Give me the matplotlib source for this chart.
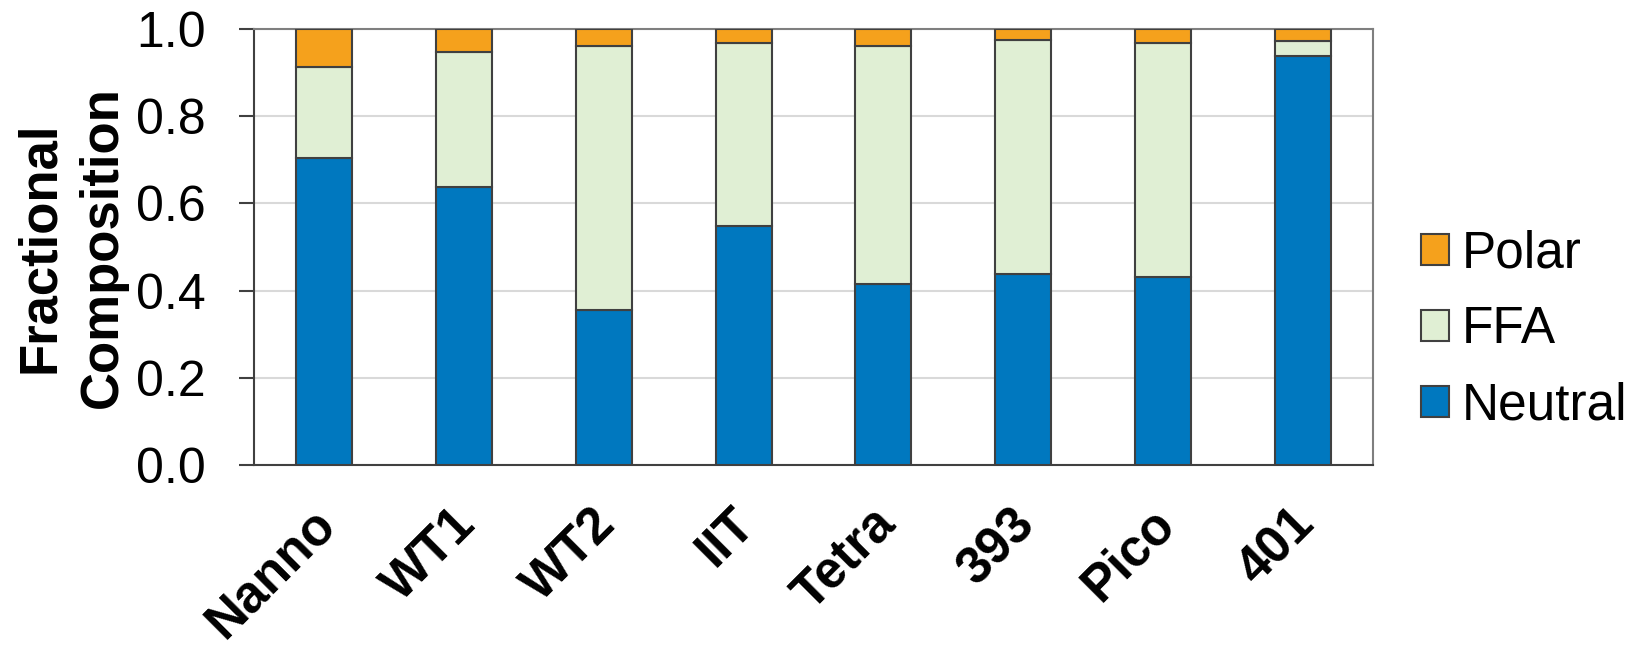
import matplotlib
matplotlib.use("Agg")
import matplotlib.pyplot as plt
import matplotlib.transforms as mtransforms
import numpy as np

# Lipid class fractions per strain (stacked to 1.0)
strains = ["Nanno", "WT1", "WT2", "IIT", "Tetra", "393", "Pico", "401"]
neutral = [0.705, 0.638, 0.356, 0.548, 0.414, 0.438, 0.432, 0.939]
ffa = [0.207, 0.310, 0.606, 0.420, 0.548, 0.536, 0.535, 0.033]
polar = [0.088, 0.052, 0.038, 0.032, 0.038, 0.026, 0.033, 0.028]
y_ticks = [0.0, 0.2, 0.4, 0.6, 0.8, 1.0]

plt.rcParams["font.family"] = ["Liberation Sans", "DejaVu Sans"]

W, H = 1639, 647
fig = plt.figure(figsize=(W / 100, H / 100), dpi=100)
ax = fig.add_axes([254 / W, 1 - 465 / H, (1373 - 254) / W, (465 - 29) / H])

x = np.arange(len(strains))
width = 0.40
edge = "#404040"
kw = dict(edgecolor=edge, linewidth=1.5, zorder=3)
b_neu = ax.bar(x, neutral, width, color="#0078BF", label="Neutral", **kw)
b_ffa = ax.bar(x, ffa, width, bottom=neutral, color="#E0EFD4", label="FFA", **kw)
b_pol = ax.bar(x, polar, width, bottom=np.add(neutral, ffa), color="#F5A11C",
               label="Polar", **kw)

ax.set_xlim(-0.5, len(strains) - 0.5)
ax.set_ylim(0, 1.0)
ax.set_axisbelow(True)
ax.yaxis.grid(True, color="#D9D9D9", linewidth=1.5)

for side in ("left", "bottom"):
    ax.spines[side].set_color(edge)
    ax.spines[side].set_linewidth(1.5)
for side in ("top", "right"):
    ax.spines[side].set_color("#7F7F7F")
    ax.spines[side].set_linewidth(1.5)

ax.set_yticks(y_ticks)
ax.set_yticklabels([f"{v:.1f}" for v in y_ticks])
ax.tick_params(axis="y", length=11, width=1.5, color=edge, pad=24,
               labelsize=36, labelcolor="black")

ax.set_xticks(x)
ax.set_xticklabels(strains, rotation=45, ha="right", va="center",
                   rotation_mode="anchor", fontsize=37, fontweight="bold")
ax.tick_params(axis="x", length=0, pad=37)
offset = mtransforms.ScaledTranslation(4 / 100, 0, fig.dpi_scale_trans)
for lab in ax.get_xticklabels():
    lab.set_transform(lab.get_transform() + offset)

ax.set_ylabel("Fractional\nComposition", fontsize=38, fontweight="bold",
              linespacing=1.33)
ax.yaxis.set_label_coords(-0.113, 0.5)

fig.legend(handles=[b_pol, b_ffa, b_neu], labels=["Polar", "FFA", "Neutral"],
           loc="center left", bbox_to_anchor=(1421 / W, 1 - 330 / H),
           frameon=False, fontsize=37, handlelength=0.55, handleheight=0.55,
           handletextpad=0.25, labelspacing=0.52, borderpad=0, borderaxespad=0)

fig.savefig("out.png", dpi=100)
